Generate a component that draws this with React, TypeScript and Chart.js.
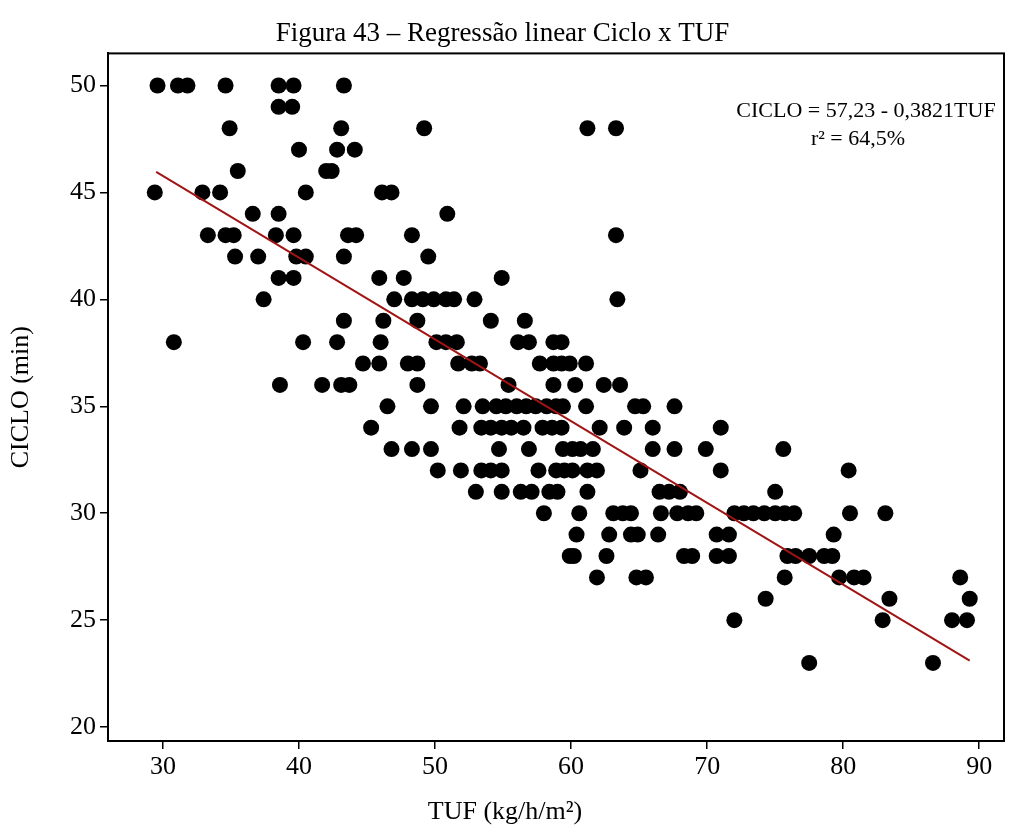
import React, { useEffect, useRef } from 'react';
import { Chart, registerables } from 'chart.js';

Chart.register(...registerables);

const TITLE = 'Figura 43 – Regressão linear Ciclo x TUF';
const X_TITLE = 'TUF (kg/h/m²)';
const Y_TITLE = 'CICLO (min)';
const EQUATION = 'CICLO = 57,23 - 0,3821TUF';
const R2_TEXT = 'r² = 64,5%';

const xTicks = [30, 40, 50, 60, 70, 80, 90];
const yTicks = [20, 25, 30, 35, 40, 45, 50];

// CICLO level of each row of points, and the TUF values observed at that level
const cicloRows = [50, 49, 48, 47, 46, 45, 44, 43, 42, 41, 40, 39, 38, 37, 36, 35, 34, 33, 32, 31, 30, 29, 28, 27, 26, 25, 23];
const tufRows: number[][] = [
  [29.6, 31.1, 31.8, 34.6, 38.5, 39.6, 43.3],
  [38.5, 39.5],
  [34.9, 43.1, 49.2, 61.2, 63.3],
  [40.0, 42.8, 44.1],
  [35.5, 42.0, 42.4],
  [29.4, 32.9, 34.2, 40.5, 46.1, 46.8],
  [36.6, 38.5, 50.9],
  [33.3, 34.6, 35.2, 38.3, 39.6, 43.6, 44.2, 48.3, 63.3],
  [35.3, 37.0, 39.8, 40.5, 43.3, 49.5],
  [38.5, 39.6, 45.9, 47.7, 54.9],
  [37.4, 47.0, 48.3, 49.1, 49.9, 50.8, 51.4, 52.9, 63.4],
  [43.3, 46.2, 48.7, 54.1, 56.6],
  [30.8, 40.3, 42.8, 46.0, 50.1, 50.8, 51.6, 56.1, 56.9, 58.7, 59.3],
  [44.7, 45.9, 48.0, 48.7, 51.7, 52.7, 53.3, 57.7, 58.7, 59.3, 59.9, 61.1],
  [38.6, 41.7, 43.1, 43.7, 48.7, 55.4, 58.7, 60.3, 62.4, 63.6],
  [46.5, 49.7, 52.1, 53.5, 54.5, 55.2, 56.0, 56.7, 57.4, 58.2, 58.9, 59.4, 61.1, 64.7, 65.3, 67.6],
  [45.3, 51.8, 53.4, 54.1, 54.9, 55.6, 56.5, 57.9, 58.6, 59.3, 62.1, 63.9, 66.0, 71.0],
  [46.8, 48.3, 49.7, 54.7, 56.9, 59.4, 60.1, 60.7, 61.6, 66.0, 67.6, 69.9, 75.6],
  [50.2, 51.9, 53.4, 54.1, 54.9, 57.6, 58.9, 59.5, 60.1, 61.2, 61.9, 65.1, 71.0, 80.4],
  [53.0, 54.9, 56.3, 57.1, 58.4, 59.0, 61.2, 66.5, 67.2, 68.0, 75.0],
  [58.0, 60.6, 63.1, 63.8, 64.4, 66.6, 67.8, 68.6, 69.2, 72.0, 72.7, 73.4, 74.2, 75.0, 75.7, 76.4, 80.5, 83.1],
  [60.4, 62.8, 64.4, 64.9, 66.4, 70.7, 71.6, 79.3],
  [59.9, 60.2, 62.6, 68.3, 68.9, 70.7, 71.6, 75.9, 76.5, 77.5, 78.6, 79.2],
  [61.9, 64.8, 65.5, 75.7, 79.7, 80.8, 81.5, 88.6],
  [74.3, 83.4, 89.3],
  [72.0, 82.9, 88.0, 89.1],
  [77.5, 86.6],
];

// fitted line end points
const fitTuf = [29.5, 89.3];
const fitCiclo = [45.96, 23.11];

const FONT = "'Liberation Serif', 'Times New Roman', serif";

export default function App() {
  const ref = useRef<HTMLCanvasElement>(null);

  useEffect(() => {
    const canvas = ref.current;
    if (!canvas) return;

    const scatter: { x: number; y: number }[] = [];
    cicloRows.forEach((c, i) => tufRows[i].forEach((t) => scatter.push({ x: t, y: c })));
    const fitLine = fitTuf.map((x, i) => ({ x, y: fitCiclo[i] }));

    const framePlugin = {
      id: 'frameAndNote',
      afterDraw(chart: any) {
        const { ctx, chartArea } = chart;
        ctx.save();
        ctx.strokeStyle = '#000';
        ctx.lineWidth = 2;
        ctx.strokeRect(chartArea.left, chartArea.top, chartArea.right - chartArea.left, chartArea.bottom - chartArea.top);
        ctx.fillStyle = '#000';
        ctx.textAlign = 'center';
        ctx.textBaseline = 'middle';
        ctx.font = `22px ${FONT}`;
        ctx.fillText(EQUATION, 866, 111);
        ctx.fillText(R2_TEXT, 858, 139);
        ctx.font = `26px ${FONT}`;
        ctx.fillText(X_TITLE, 505, 812);
        ctx.restore();
      },
    };

    const tickFont = { family: FONT, size: 26 };

    const chart = new Chart(canvas, {
      type: 'scatter',
      data: {
        datasets: [
          {
            type: 'line',
            data: fitLine,
            borderColor: '#a01414',
            borderWidth: 2,
            pointRadius: 0,
            fill: false,
            order: 0,
          } as any,
          {
            data: scatter,
            backgroundColor: '#000',
            borderColor: '#000',
            borderWidth: 0,
            pointRadius: 8,
            pointHoverRadius: 8,
            order: 1,
          },
        ],
      },
      options: {
        animation: false,
        responsive: false,
        layout: { padding: { left: 0, right: 7, top: 0, bottom: 0 } },
        plugins: {
          legend: { display: false },
          tooltip: { enabled: false },
          title: {
            display: true,
            text: TITLE,
            color: '#000',
            font: { family: FONT, size: 27, weight: 'normal' },
            padding: { top: 18, bottom: 3 },
          },
        },
        scales: {
          x: {
            type: 'linear',
            min: 25.96,
            max: 91.82,
            afterBuildTicks: (s: any) => {
              s.ticks = xTicks.map((v) => ({ value: v }));
            },
            afterFit: (s: any) => {
              s.height = 93;
            },
            grid: { display: true, drawOnChartArea: false, drawTicks: true, tickLength: 8, color: '#000', lineWidth: 1.5 },
            border: { display: true, color: '#000', width: 2 },
            ticks: { color: '#000', font: tickFont, padding: 3, maxRotation: 0, autoSkip: false },
            title: { display: false },
          },
          y: {
            type: 'linear',
            min: 19.35,
            max: 51.5,
            afterBuildTicks: (s: any) => {
              s.ticks = yTicks.map((v) => ({ value: v }));
            },
            afterFit: (s: any) => {
              s.width = 108;
            },
            grid: { display: true, drawOnChartArea: false, drawTicks: true, tickLength: 8, color: '#000', lineWidth: 1.5 },
            border: { display: true, color: '#000', width: 2 },
            ticks: { color: '#000', font: tickFont, padding: 4, autoSkip: false },
            title: { display: true, text: Y_TITLE, color: '#000', font: { family: FONT, size: 26 }, padding: { top: 6, bottom: 0 } },
          },
        },
      },
      plugins: [framePlugin],
    });

    return () => chart.destroy();
  }, []);

  return (
    <div style={{ position: 'fixed', left: 0, top: 0, width: 1012, height: 834, background: '#fff' }}>
      <canvas ref={ref} width={1012} height={834} style={{ display: 'block' }} />
    </div>
  );
}
